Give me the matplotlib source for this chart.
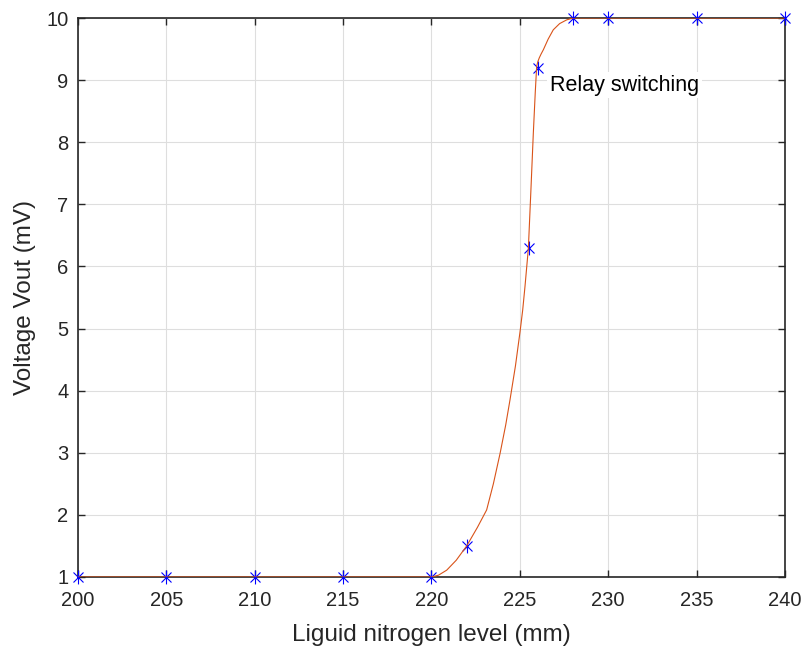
import matplotlib
matplotlib.use("Agg")
import matplotlib.pyplot as plt
from matplotlib.path import Path

plt.rcParams['font.family'] = ['Liberation Sans', 'DejaVu Sans']

# measured points
level_mm = [200, 205, 210, 215, 220, 222, 225.5, 226, 228, 230, 235, 240]
vout_mv = [1, 1, 1, 1, 1, 1.5, 6.3, 9.2, 10, 10, 10, 10]

# fitted curve
curve_x = [200, 210, 220, 220.4, 220.86, 221.4, 221.99, 222.6, 223.12, 223.5, 223.88,
           224.2, 224.44, 224.75, 225.01, 225.16, 225.29, 225.48, 225.62, 225.76,
           225.87, 225.95, 226.02, 226.1, 226.2, 226.33, 226.6, 226.89, 227.25,
           227.65, 228.02, 235, 240]
curve_y = [1, 1, 1, 1.03, 1.11, 1.27, 1.5, 1.8, 2.08, 2.5, 2.99,
           3.45, 3.85, 4.4, 4.95, 5.3, 5.68, 6.29, 7.2, 8.14,
           8.8, 9.22, 9.3, 9.36, 9.42, 9.49, 9.66, 9.81, 9.91,
           9.97, 10, 10, 10]

x_ticks = [200, 205, 210, 215, 220, 225, 230, 235, 240]
y_ticks = [1, 2, 3, 4, 5, 6, 7, 8, 9, 10]

# MATLAB-style asterisk marker: vertical stroke + two diagonals
d = 0.72
star = Path([(0, -1), (0, 1), (-d, -d), (d, d), (-d, d), (d, -d)],
            [Path.MOVETO, Path.LINETO, Path.MOVETO, Path.LINETO, Path.MOVETO, Path.LINETO])

fig = plt.figure(figsize=(8.03, 6.46), dpi=100)
ax = fig.add_axes([78/803, 69/646, 707/803, 559/646])

ax.plot(level_mm, vout_mv, linestyle='none', marker=star, color=(0, 0, 1),
        markersize=10, markeredgewidth=0.8, zorder=3, clip_on=False)
ax.plot(curve_x, curve_y, color=(0.85, 0.325, 0.098), lw=0.8, zorder=4)
ax.text(226.7, 8.92, 'Relay switching', fontsize=15.5, ha='left', va='center',
        bbox=dict(facecolor='white', edgecolor='none', pad=2), zorder=5)

ax.set_xlim(200, 240)
ax.set_ylim(1, 10)
ax.set_xticks(x_ticks)
ax.set_yticks(y_ticks)
ax.tick_params(direction='in', length=5, width=1, top=True, right=True,
               labelsize=14.5, colors='0.15')
ax.tick_params(axis='x', pad=10)
ax.tick_params(axis='y', pad=7)
for s in ax.spines.values():
    s.set_color('0.15')
    s.set_linewidth(1.2)
ax.grid(True, color='0.87', linewidth=0.8)
ax.set_axisbelow(True)
ax.set_xlabel('Liguid nitrogen level (mm)', fontsize=17.5, color='0.15', labelpad=10)
ax.set_ylabel('Voltage Vout (mV)', fontsize=17.5, color='0.15', labelpad=7)

fig.savefig('out.png', dpi=100)
